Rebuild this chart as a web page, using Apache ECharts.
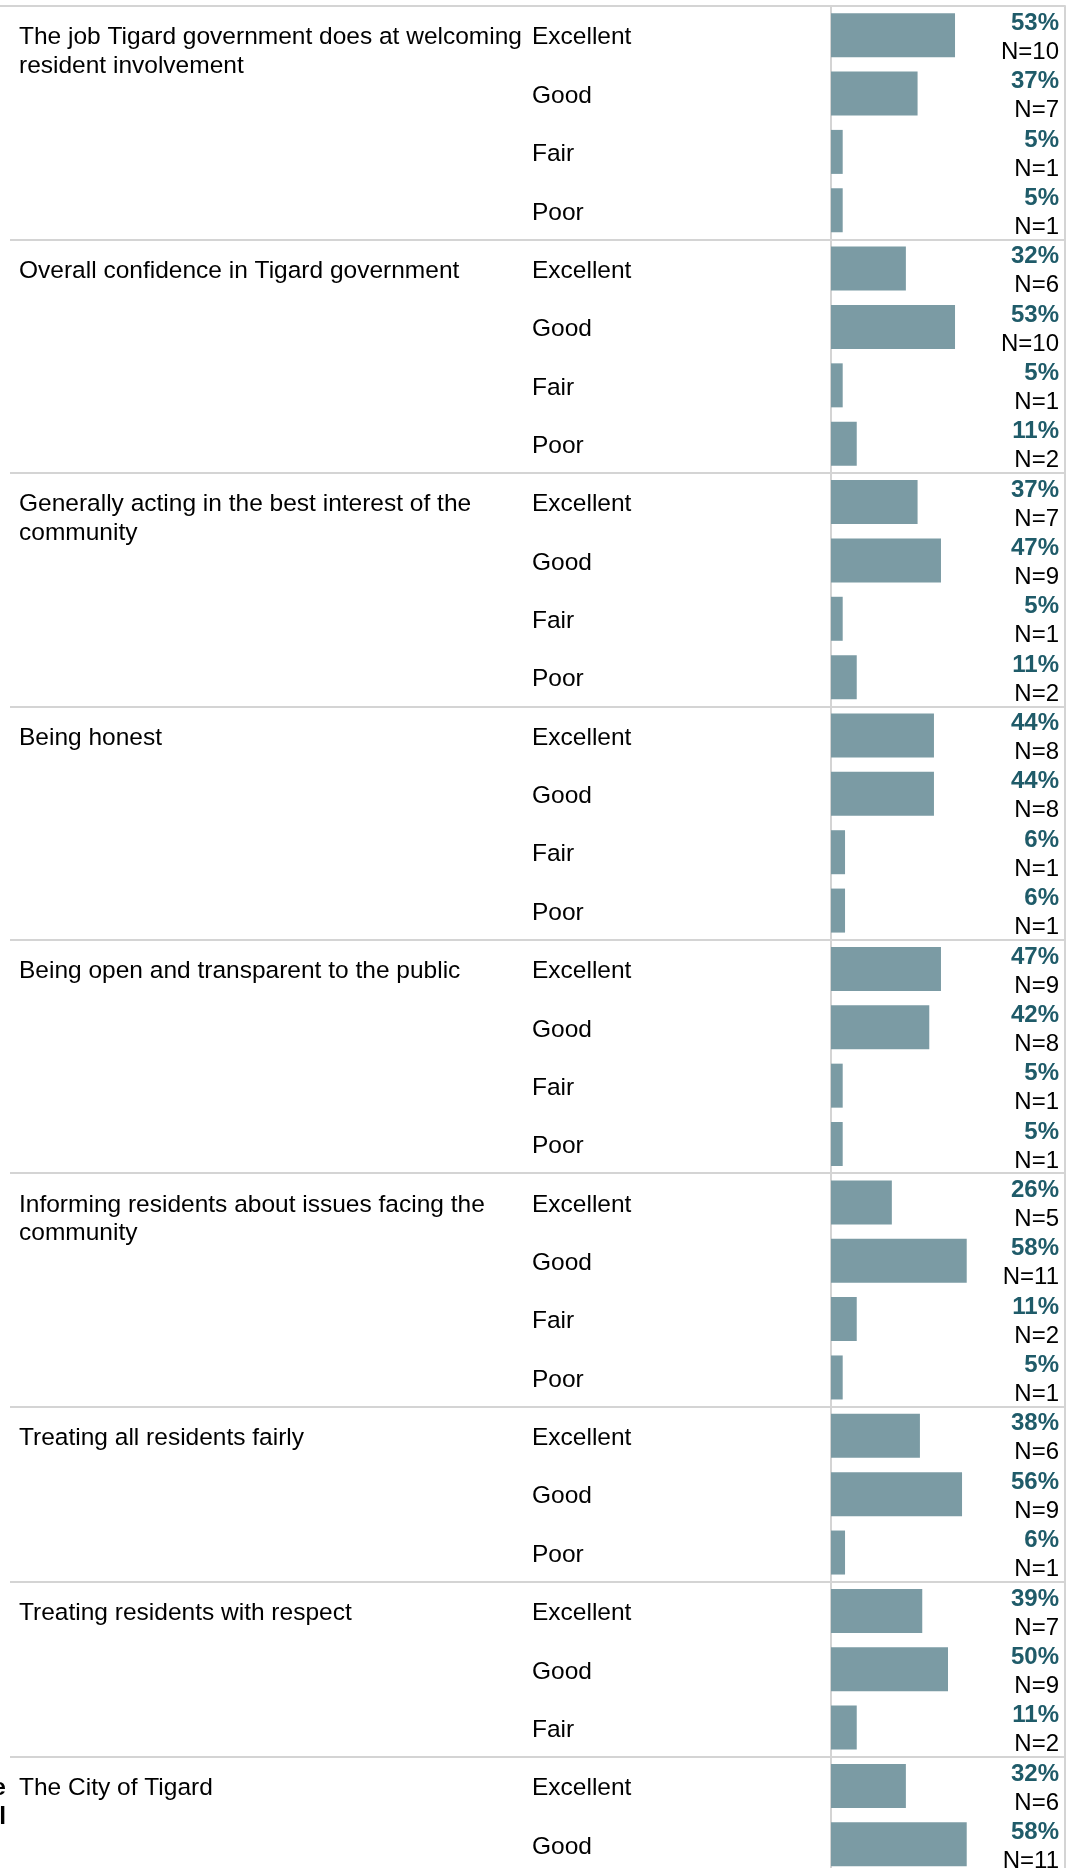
<!DOCTYPE html>
<html>
<head>
<meta charset="utf-8">
<script src="https://cdn.jsdelivr.net/npm/echarts@6/dist/echarts.min.js"></script>
<style>
html,body{margin:0;padding:0;background:#fff;overflow:hidden;}
#chart{width:1076px;height:1868px;}
</style>
</head>
<body>
<div id="chart"></div>
<script>
// ---- data ----
const questions = [
  'The job Tigard government does at welcoming\nresident involvement',
  'Overall confidence in Tigard government',
  'Generally acting in the best interest of the\ncommunity',
  'Being honest',
  'Being open and transparent to the public',
  'Informing residents about issues facing the\ncommunity',
  'Treating all residents fairly',
  'Treating residents with respect',
  'The City of Tigard'
];
const groupSizes = [4, 4, 4, 4, 4, 4, 3, 3, 2];
const sectionLabels = ['', '', '', '', '', '', '', '', 'e\nl'];
const ratings = [
  'Excellent','Good','Fair','Poor',
  'Excellent','Good','Fair','Poor',
  'Excellent','Good','Fair','Poor',
  'Excellent','Good','Fair','Poor',
  'Excellent','Good','Fair','Poor',
  'Excellent','Good','Fair','Poor',
  'Excellent','Good','Poor',
  'Excellent','Good','Fair',
  'Excellent','Good'
];
const percents = [
  53, 37, 5, 5,
  32, 53, 5, 11,
  37, 47, 5, 11,
  44, 44, 6, 6,
  47, 42, 5, 5,
  26, 58, 11, 5,
  38, 56, 6,
  39, 50, 11,
  32, 58
];
const counts = [
  10, 7, 1, 1,
  6, 10, 1, 2,
  7, 9, 1, 2,
  8, 8, 1, 1,
  9, 8, 1, 1,
  5, 11, 2, 1,
  6, 9, 1,
  7, 9, 2,
  6, 11
];

// ---- derived ----
const rowIds = ratings.map((r, i) => 'row' + i);
const groupStart = {};
let acc = 0;
groupSizes.forEach((s, g) => { groupStart[acc] = g; acc += s; });

const FONT = '"Liberation Sans", Arial, Helvetica, sans-serif';
const LINE = '#d4d4d4';
const ROW_H = 58.36;
const GRID_TOP = 6;
const GRID_H = ROW_H * rowIds.length;

function richCentered(text) {
  // rich text whose first line sits on the row centre
  if (!text) return '';
  const lines = text.split('\n');
  const blanks = new Array(lines.length - 1).fill('{t| }');
  return blanks.concat(lines.map(l => '{t|' + l + '}')).join('\n');
}

const chart = echarts.init(document.getElementById('chart'), null, {renderer: 'canvas'});

const catBase = {
  type: 'category',
  data: rowIds,
  inverse: true,
  axisTick: {show: false},
  axisLine: {show: false},
  splitLine: {show: false}
};

const txt = {fontSize: 24.5, lineHeight: 28.5, color: '#000', fontFamily: FONT};

chart.setOption({
  animation: false,
  backgroundColor: '#ffffff',
  textStyle: {fontFamily: FONT},
  grid: [
    {left: 10, right: 11, top: GRID_TOP, height: GRID_H, outerBoundsMode: 'none', containLabel: false},
    {left: 831, right: 11, top: GRID_TOP, height: GRID_H, outerBoundsMode: 'none', containLabel: false}
  ],
  xAxis: [
    {type: 'value', gridIndex: 0, show: false, min: 0, max: 100},
    {type: 'value', gridIndex: 1, show: false, min: 0, max: 100}
  ],
  yAxis: [
    // rating labels + group separators
    Object.assign({}, catBase, {
      gridIndex: 0, position: 'left',
      splitLine: {
        show: true,
        interval: (idx) => groupStart[idx] !== undefined,
        lineStyle: {color: LINE, width: 2}
      },
      axisLabel: {
        interval: 0, align: 'left', margin: -522, padding: [5, 0, 0, 0],
        formatter: (v, i) => richCentered(ratings[i]),
        rich: {t: Object.assign({align: 'left'}, txt)}
      }
    }),
    // question labels
    Object.assign({}, catBase, {
      gridIndex: 0, position: 'left',
      axisLabel: {
        interval: 0, align: 'left', margin: -9, padding: [5, 0, 0, 0],
        formatter: (v, i) => groupStart[i] !== undefined ? richCentered(questions[groupStart[i]]) : '',
        rich: {t: Object.assign({align: 'left'}, txt)}
      }
    }),
    // cut-off section labels on the far left
    Object.assign({}, catBase, {
      gridIndex: 0, position: 'left',
      axisLabel: {
        interval: 0, align: 'right', margin: 4, padding: [5, 0, 0, 0],
        formatter: (v, i) => groupStart[i] !== undefined ? richCentered(sectionLabels[groupStart[i]]) : '',
        rich: {t: Object.assign({align: 'right', fontWeight: 'bold'}, txt)}
      }
    }),
    // bar axis with left border
    Object.assign({}, catBase, {
      gridIndex: 1, position: 'left',
      axisLine: {show: true, lineStyle: {color: LINE, width: 2}},
      axisLabel: {show: false}
    }),
    // right border + value labels
    Object.assign({}, catBase, {
      gridIndex: 1, position: 'right',
      axisLine: {show: true, lineStyle: {color: LINE, width: 2}},
      axisLabel: {
        interval: 0, align: 'right', margin: -6, padding: [5, 0, 0, 0],
        formatter: (v, i) => '{p|' + percents[i] + '%}\n{n|N=' + counts[i] + '}',
        rich: {
          p: {fontSize: 24, fontWeight: 'bold', color: '#1f5b69', lineHeight: 29, align: 'right', fontFamily: FONT},
          n: {fontSize: 24, color: '#000', lineHeight: 29, align: 'right', fontFamily: FONT}
        }
      }
    })
  ],
  graphic: [
    {type: 'line', shape: {x1: 0, y1: GRID_TOP, x2: 1065, y2: GRID_TOP}, style: {stroke: LINE, lineWidth: 2}, silent: true}
  ],
  series: [
    {
      type: 'bar',
      xAxisIndex: 1,
      yAxisIndex: 3,
      data: percents,
      barWidth: 44,
      itemStyle: {color: '#7b9ba4'},
      silent: true
    }
  ]
});
</script>
</body>
</html>
